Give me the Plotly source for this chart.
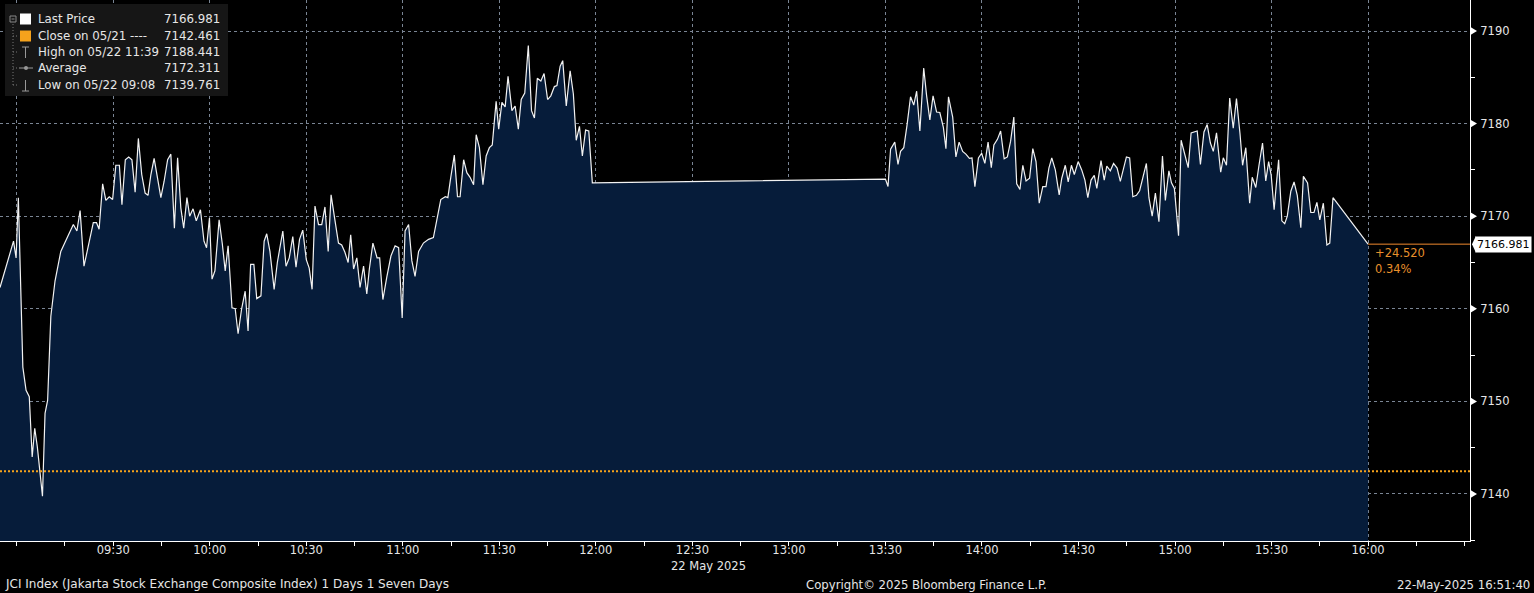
import plotly.graph_objects as go
import pandas as pd

DATE = "2025-05-22"

times = [
    "08:54:48", "08:59:00", "08:59:48", "09:00:30", "09:01:54", "09:02:54", "09:03:54", "09:04:48",
    "09:05:36", "09:06:24", "09:08:00", "09:08:48", "09:09:36", "09:10:36", "09:11:54", "09:13:42",
    "09:16:06", "09:17:36", "09:18:42", "09:19:42", "09:20:54", "09:22:36", "09:23:48", "09:24:48",
    "09:25:36", "09:26:42", "09:27:42", "09:28:45", "09:29:48", "09:30:48", "09:31:54", "09:32:42",
    "09:33:45", "09:34:48", "09:35:48", "09:36:48", "09:37:48", "09:38:51", "09:39:54", "09:40:48",
    "09:41:42", "09:42:42", "09:43:45", "09:44:48", "09:45:48", "09:46:54", "09:47:54", "09:49:00",
    "09:50:00", "09:51:00", "09:51:54", "09:52:54", "09:53:45", "09:54:48", "09:55:48", "09:57:06",
    "09:58:12", "09:59:00", "09:59:54", "10:00:42", "10:01:36", "10:02:54", "10:03:54", "10:04:48",
    "10:05:42", "10:06:54", "10:07:54", "10:08:48", "10:09:54", "10:11:00", "10:11:54", "10:12:42",
    "10:13:42", "10:14:36", "10:15:54", "10:16:54", "10:17:42", "10:18:42", "10:20:00", "10:21:00",
    "10:22:42", "10:23:42", "10:24:42", "10:25:48", "10:26:48", "10:27:54", "10:28:54", "10:30:00",
    "10:30:54", "10:31:48", "10:32:42", "10:33:48", "10:34:48", "10:35:48", "10:36:48", "10:37:42",
    "10:38:48", "10:40:00", "10:41:00", "10:42:00", "10:43:00", "10:43:48", "10:44:42", "10:45:42",
    "10:46:42", "10:47:48", "10:48:48", "10:49:36", "10:50:42", "10:52:00", "10:52:48", "10:53:48",
    "10:55:00", "10:56:18", "10:57:36", "10:58:42", "10:59:48",
    "11:00:42", "11:01:48", "11:02:48", "11:03:48", "11:04:54", "11:06:24", "11:08:00", "11:09:30",
    "11:10:36", "11:11:48", "11:13:12", "11:14:00", "11:14:54", "11:16:00", "11:17:00", "11:17:48",
    "11:18:54", "11:19:54", "11:20:54", "11:22:00", "11:22:48", "11:23:48", "11:24:54", "11:25:54",
    "11:26:54", "11:27:48", "11:29:00", "11:29:48", "11:30:48", "11:31:48", "11:32:42", "11:33:54",
    "11:34:54", "11:35:54", "11:36:48", "11:37:54", "11:39:00", "11:40:00", "11:40:54", "11:41:48",
    "11:42:54", "11:43:54", "11:45:00", "11:46:00", "11:47:06", "11:47:54", "11:48:54", "11:49:42",
    "11:50:48", "11:52:00", "11:53:00", "11:53:54", "11:54:54", "11:55:48", "11:56:48", "11:57:48",
    "11:58:54",
    "13:30:00", "13:30:48", "13:31:36", "13:32:54", "13:33:54", "13:34:42", "13:35:42", "13:36:42",
    "13:37:48", "13:38:48", "13:39:42", "13:40:42", "13:41:54", "13:42:48", "13:43:48", "13:44:48",
    "13:45:54", "13:46:54", "13:48:00", "13:48:48", "13:49:36", "13:50:54", "13:51:54", "13:52:54",
    "13:54:00", "13:55:00", "13:56:06", "13:56:54", "13:57:48", "13:58:54", "13:59:54", "14:00:54",
    "14:01:54", "14:02:54", "14:03:42", "14:04:48", "14:05:48", "14:06:54", "14:07:54", "14:08:54",
    "14:09:54", "14:10:48", "14:11:48", "14:12:42", "14:13:42", "14:14:48", "14:15:48", "14:16:48",
    "14:17:48", "14:18:54", "14:19:54", "14:20:48", "14:21:42", "14:22:48", "14:24:00", "14:24:48",
    "14:25:54", "14:26:48", "14:27:48", "14:28:42", "14:29:54", "14:31:00", "14:32:00", "14:32:54",
    "14:33:54", "14:34:54", "14:35:42", "14:37:00", "14:38:00", "14:38:48", "14:39:54", "14:40:54",
    "14:42:00", "14:43:00", "14:43:48", "14:44:54", "14:45:54", "14:46:54", "14:48:00", "14:49:00",
    "14:50:06", "14:51:06", "14:51:54", "14:52:54", "14:53:54", "14:55:00", "14:56:06", "14:57:00",
    "14:58:06", "14:58:54", "14:59:48", "15:01:06", "15:01:54", "15:03:00", "15:04:06", "15:05:00",
    "15:06:54", "15:07:54", "15:09:00", "15:10:00", "15:11:00", "15:11:54", "15:12:54", "15:14:12",
    "15:15:00", "15:16:00", "15:17:00", "15:18:06", "15:19:06", "15:20:12", "15:21:00", "15:22:00",
    "15:23:12", "15:24:00", "15:25:06", "15:26:06", "15:27:12", "15:28:12", "15:29:06", "15:29:54",
    "15:30:48", "15:31:18", "15:32:12", "15:33:12", "15:34:06", "15:34:54", "15:36:00", "15:37:00",
    "15:38:00", "15:39:06", "15:39:54", "15:41:12", "15:42:12", "15:43:12", "15:44:06", "15:45:00",
    "15:46:06", "15:47:12", "15:48:06", "15:49:06", "16:00:00",
]

prices = [
    7162.3, 7167.3, 7165.5, 7172.0, 7153.7, 7151.2, 7150.5, 7144.0,
    7147.1, 7145.1, 7139.761, 7148.7, 7150.1, 7159.2, 7163.0, 7166.2,
    7168.0, 7169.1, 7168.4, 7170.6, 7164.6, 7167.3, 7169.3, 7169.3,
    7168.6, 7173.5, 7171.7, 7172.1, 7171.8, 7175.5, 7175.5, 7171.25,
    7176.1, 7176.4, 7176.1, 7172.6, 7178.4, 7174.5, 7172.5, 7172.25,
    7174.5, 7176.25, 7174.3, 7172.0, 7173.75, 7176.1, 7176.7, 7168.7,
    7176.3, 7170.9, 7168.7, 7172.0, 7170.0, 7170.8, 7169.5, 7170.7,
    7167.3, 7166.6, 7169.8, 7163.2, 7164.1, 7169.6, 7167.0, 7164.1,
    7166.8, 7160.1, 7160.0, 7157.3, 7160.0, 7161.9, 7157.6, 7164.8,
    7164.8, 7161.1, 7161.4, 7167.3, 7168.1, 7166.2, 7162.1, 7165.0,
    7168.4, 7164.6, 7165.5, 7167.8, 7164.5, 7167.5, 7168.5, 7165.3,
    7164.4, 7162.1, 7171.1, 7169.1, 7169.1, 7171.0, 7166.2, 7172.3,
    7169.8, 7167.1, 7166.9, 7166.1, 7165.0, 7168.0, 7164.3, 7165.5,
    7162.3, 7164.6, 7161.6, 7164.3, 7167.1, 7165.5, 7165.5, 7161.0,
    7163.4, 7165.7, 7166.8, 7166.6, 7159.0,
    7168.4, 7169.1, 7165.2, 7163.5, 7166.2, 7167.1, 7167.5, 7167.7,
    7169.8, 7171.8, 7172.1, 7172.0, 7174.2, 7176.6, 7172.1, 7172.1,
    7176.1, 7174.7, 7174.2, 7173.4, 7178.8, 7177.4, 7173.4, 7176.5,
    7177.4, 7177.7, 7182.4, 7179.4, 7182.3, 7181.8, 7185.1, 7181.4,
    7181.9, 7179.4, 7182.6, 7183.3, 7188.441, 7181.4, 7180.6, 7184.9,
    7184.6, 7185.4, 7182.6, 7183.0, 7184.0, 7184.1, 7186.2, 7186.8,
    7181.9, 7185.7, 7183.2, 7178.2, 7179.7, 7176.5, 7179.3, 7179.2,
    7173.6,
    7174.0, 7173.2, 7177.25, 7178.0, 7175.6, 7177.0, 7177.4, 7179.8,
    7182.9, 7182.0, 7183.5, 7179.2, 7186.0, 7183.0, 7180.4, 7183.0,
    7181.25, 7181.2, 7179.6, 7177.3, 7182.9, 7180.7, 7176.4, 7178.0,
    7177.0, 7176.7, 7176.25, 7176.3, 7173.2, 7176.3, 7176.8, 7175.7,
    7178.0, 7175.25, 7177.7, 7178.3, 7179.2, 7176.2, 7176.4, 7178.1,
    7180.7, 7173.5, 7172.9, 7175.5, 7173.8, 7174.1, 7177.3, 7175.9,
    7171.4, 7173.2, 7173.2, 7175.2, 7176.3, 7175.0, 7172.3, 7174.1,
    7175.5, 7173.7, 7175.5, 7174.5, 7175.9, 7175.0, 7173.9, 7172.0,
    7173.9, 7174.4, 7173.0, 7176.0, 7173.9, 7175.4, 7174.9, 7175.7,
    7175.2, 7173.75, 7174.8, 7176.4, 7176.3, 7172.1, 7172.25, 7172.75,
    7174.3, 7175.7, 7172.0, 7170.0, 7172.5, 7169.4, 7176.5, 7171.7,
    7174.9, 7173.6, 7173.0, 7167.9, 7178.2, 7176.8, 7175.25, 7179.0,
    7179.2, 7175.6, 7179.1, 7179.9, 7177.9, 7177.0, 7179.0, 7174.75,
    7176.3, 7175.5, 7182.75, 7179.5, 7182.7, 7178.9, 7175.5, 7177.4,
    7171.4, 7174.2, 7173.1, 7175.5, 7177.9, 7173.8, 7175.9, 7174.4,
    7170.7, 7172.7, 7176.1, 7169.5, 7169.2, 7170.0, 7172.7, 7173.7,
    7172.25, 7168.75, 7174.3, 7173.6, 7170.4, 7170.4, 7171.5, 7169.6,
    7171.4, 7166.9, 7167.1, 7172.0, 7166.981,
]

prev_close = 7142.461
last_price = 7166.981

y_ticks = [7140, 7150, 7160, 7170, 7180, 7190]
x_tick_times = ["09:00", "09:30", "10:00", "10:30", "11:00", "11:30", "12:00", "12:30",
                "13:00", "13:30", "14:00", "14:30", "15:00", "15:30", "16:00"]
x_tick_labels = ["", "09:30", "10:00", "10:30", "11:00", "11:30", "12:00", "12:30",
                 "13:00", "13:30", "14:00", "14:30", "15:00", "15:30", "16:00"]

legend_labels = ["Last Price", "Close on 05/21 ----", "High on 05/22 11:39", "Average", "Low on 05/22 09:08"]
legend_values = ["7166.981", "7142.461", "7188.441", "7172.311", "7139.761"]

footer_left = "JCI Index (Jakarta Stock Exchange Composite Index) 1 Days 1 Seven Days"
footer_mid = "Copyright\u00a9 2025 Bloomberg Finance L.P."
footer_right = "22-May-2025 16:51:40"
date_label = "22 May 2025"

# ---------------------------------------------------------------------------
W, H = 1534, 593
ML, MR, MT, MB = 0, 64, 0, 52
PW, PH = W - ML - MR, H - MT - MB


def px(x):
    return x / PW


def py(y):
    return 1 - y / PH


x = pd.to_datetime([f"{DATE} {t}" for t in times])
x_range = [pd.Timestamp(f"{DATE} 08:54:48"), pd.Timestamp(f"{DATE} 16:31:41")]
y_range = [7134.92, 7193.35]

FONT = "DejaVu Sans"
COND = "DejaVu Sans Condensed, DejaVu Sans"
TXT = "#e6e6e6"
ORANGE = "#f5a21c"
NAVY = "#061c3a"
GRID = "#7a8594"

fig = go.Figure()
fig.add_trace(go.Scatter(
    x=x, y=prices, mode="lines",
    line=dict(color="#f2f2f2", width=1.2),
    fill="tozeroy", fillcolor=NAVY,
    hoverinfo="skip", showlegend=False,
))

shapes = []
# previous close dotted line
shapes.append(dict(type="line", xref="paper", x0=0, x1=1, yref="y", y0=prev_close, y1=prev_close,
                   line=dict(color=ORANGE, width=2, dash="2px,2px"), layer="above"))
# last price line to axis
shapes.append(dict(type="line", xref="x", x0=x[-1], x1=x_range[1], yref="y", y0=last_price, y1=last_price,
                   line=dict(color="#f08a2e", width=1), layer="above"))
# y tick triangles
for v in y_ticks:
    shapes.append(dict(type="path", xref="paper", yref="y",
                       path=f"M {1.0} {v + 0.45} L {1 + 7 / PW} {v} L {1.0} {v - 0.45} Z",
                       fillcolor="white", line=dict(width=0), layer="above"))
# last-price tag pointer
shapes.append(dict(type="path", xref="paper", yref="y",
                   path=f"M {1 + 2 / PW} {last_price} L {1 + 6 / PW} {last_price + 0.92} "
                        f"L {1 + 6 / PW} {last_price - 0.92} Z",
                   fillcolor="white", line=dict(width=0), layer="above"))
# legend box
shapes.append(dict(type="rect", xref="paper", yref="paper", x0=px(5), x1=px(228), y0=py(96), y1=py(4),
                   fillcolor="#161616", line=dict(width=0), layer="above"))
rows_y = [19, 36, 52, 68, 85]
# legend swatches
shapes.append(dict(type="rect", xref="paper", yref="paper", x0=px(20), x1=px(31), y0=py(rows_y[0] + 5.5),
                   y1=py(rows_y[0] - 5.5), fillcolor="white", line=dict(width=0), layer="above"))
shapes.append(dict(type="rect", xref="paper", yref="paper", x0=px(20), x1=px(31), y0=py(rows_y[1] + 5.5),
                   y1=py(rows_y[1] - 5.5), fillcolor=ORANGE, line=dict(width=0), layer="above"))
# tree connector
shapes.append(dict(type="line", xref="paper", yref="paper", x0=px(13), x1=px(13), y0=py(rows_y[-1]), y1=py(rows_y[0] + 4),
                   line=dict(color="#777777", width=1, dash="1px,2px"), layer="above"))
for ry in rows_y[1:]:
    shapes.append(dict(type="line", xref="paper", yref="paper", x0=px(13), x1=px(18), y0=py(ry), y1=py(ry),
                       line=dict(color="#777777", width=1, dash="1px,2px"), layer="above"))
shapes.append(dict(type="rect", xref="paper", yref="paper", x0=px(10), x1=px(16), y0=py(rows_y[0] + 3),
                   y1=py(rows_y[0] - 3), fillcolor="#161616", line=dict(color="#888888", width=1), layer="above"))
shapes.append(dict(type="line", xref="paper", yref="paper", x0=px(11.5), x1=px(14.5), y0=py(rows_y[0]), y1=py(rows_y[0]),
                   line=dict(color="#888888", width=1), layer="above"))
# high icon (T) and low icon (inverted T)
shapes.append(dict(type="line", xref="paper", yref="paper", x0=px(22), x1=px(29), y0=py(rows_y[2] - 5), y1=py(rows_y[2] - 5),
                   line=dict(color="#999999", width=1), layer="above"))
shapes.append(dict(type="line", xref="paper", yref="paper", x0=px(25.5), x1=px(25.5), y0=py(rows_y[2] + 6), y1=py(rows_y[2] - 5),
                   line=dict(color="#999999", width=1), layer="above"))
shapes.append(dict(type="line", xref="paper", yref="paper", x0=px(22), x1=px(29), y0=py(rows_y[4] + 6), y1=py(rows_y[4] + 6),
                   line=dict(color="#999999", width=1), layer="above"))
shapes.append(dict(type="line", xref="paper", yref="paper", x0=px(25.5), x1=px(25.5), y0=py(rows_y[4] + 6), y1=py(rows_y[4] - 5),
                   line=dict(color="#999999", width=1), layer="above"))
# average icon
shapes.append(dict(type="line", xref="paper", yref="paper", x0=px(19), x1=px(33), y0=py(rows_y[3]), y1=py(rows_y[3]),
                   line=dict(color="#999999", width=1), layer="above"))
shapes.append(dict(type="circle", xref="paper", yref="paper", x0=px(24), x1=px(28), y0=py(rows_y[3] + 2), y1=py(rows_y[3] - 2),
                   fillcolor="#999999", line=dict(width=0), layer="above"))

ann = []
for lbl, val, ry in zip(legend_labels, legend_values, rows_y):
    ann.append(dict(xref="paper", yref="paper", x=px(36), y=py(ry), text=lbl, showarrow=False,
                    xanchor="left", yanchor="middle", font=dict(family=FONT, size=11.8, color=TXT)))
    ann.append(dict(xref="paper", yref="paper", x=px(222), y=py(ry), text=val, showarrow=False,
                    xanchor="right", yanchor="middle", font=dict(family=FONT, size=11.8, color=TXT)))

chg = last_price - prev_close
pct = chg / prev_close * 100
ann.append(dict(xref="x", yref="y", x=x[-1], y=last_price, text=f"{chg:+.3f}", showarrow=False,
                xanchor="left", yanchor="middle", xshift=5, yshift=-9,
                font=dict(family=FONT, size=11.5, color="#e8902c")))
ann.append(dict(xref="x", yref="y", x=x[-1], y=last_price, text=f"{pct:.2f}%", showarrow=False,
                xanchor="left", yanchor="middle", xshift=5, yshift=-25,
                font=dict(family=FONT, size=11.5, color="#e8902c")))
ann.append(dict(xref="paper", yref="y", x=1, y=last_price, text=f"{last_price:.3f}", showarrow=False,
                xanchor="left", yanchor="middle", xshift=5, bgcolor="white", borderpad=1,
                font=dict(family=FONT, size=11, color="black")))
ann.append(dict(xref="paper", yref="paper", x=px(708), y=py(566), text=date_label, showarrow=False,
                xanchor="center", yanchor="middle", font=dict(family=FONT, size=11.5, color=TXT)))
ann.append(dict(xref="paper", yref="paper", x=px(3), y=py(584), text=footer_left, showarrow=False,
                xanchor="left", yanchor="middle", font=dict(family=FONT, size=12, color=TXT)))
ann.append(dict(xref="paper", yref="paper", x=px(804), y=py(584), text=footer_mid, showarrow=False,
                xanchor="left", yanchor="middle", font=dict(family=COND, size=13, color=TXT)))
ann.append(dict(xref="paper", yref="paper", x=px(1532), y=py(584), text=footer_right, showarrow=False,
                xanchor="right", yanchor="middle", font=dict(family=COND, size=13, color=TXT)))

fig.update_layout(
    width=W, height=H,
    margin=dict(l=ML, r=MR, t=MT, b=MB, pad=0),
    paper_bgcolor="black", plot_bgcolor="black",
    showlegend=False,
    shapes=shapes, annotations=ann,
    xaxis=dict(
        type="date", range=x_range,
        tickmode="array",
        tickvals=[pd.Timestamp(f"{DATE} {t}") for t in x_tick_times],
        ticktext=x_tick_labels,
        showgrid=True, gridcolor=GRID, gridwidth=1, griddash="3px,3px",
        ticks="outside", ticklen=4, tickcolor="white", tickwidth=1,
        ticklabelstandoff=-6,
        minor=dict(dtick=15 * 60 * 1000, tick0=f"{DATE} 09:00", ticks="outside", ticklen=4,
                   tickcolor="white", tickwidth=1, showgrid=False),
        showline=True, linecolor="white", linewidth=1,
        tickfont=dict(family=FONT, size=11.5, color=TXT),
        zeroline=False, fixedrange=True,
    ),
    yaxis=dict(
        side="right", range=y_range,
        tickmode="array", tickvals=y_ticks, ticktext=[str(v) for v in y_ticks],
        showgrid=True, gridcolor=GRID, gridwidth=1, griddash="3px,3px",
        ticks="", ticklabelstandoff=7,
        minor=dict(dtick=5, tick0=7135, ticks="outside", ticklen=4, tickcolor="white", tickwidth=1, showgrid=False),
        showline=True, linecolor="white", linewidth=1,
        tickfont=dict(family=FONT, size=11.5, color=TXT),
        zeroline=False, fixedrange=True,
    ),
)

fig.write_html("out.html", config={"displayModeBar": False},
               post_script="document.body.style.margin='0';document.body.style.background='black';")
